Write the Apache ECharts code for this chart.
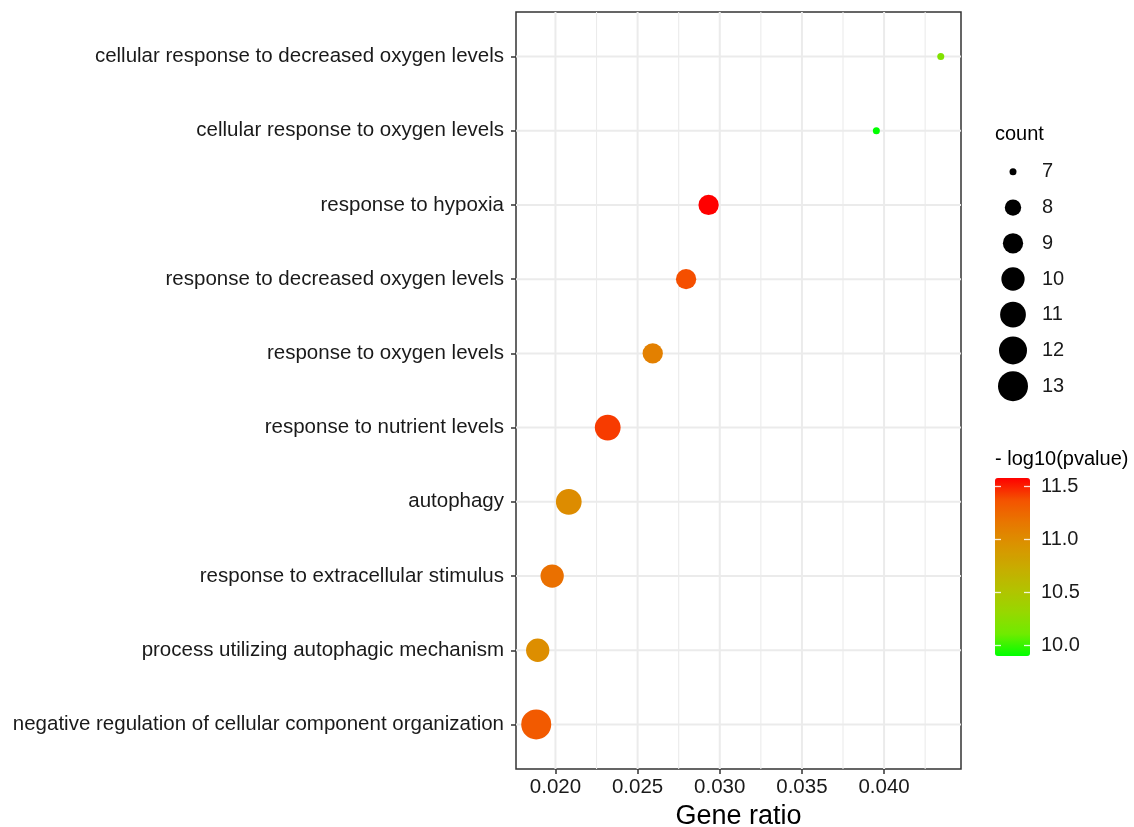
<!DOCTYPE html>
<html>
<head>
<meta charset="utf-8">
<script src="https://cdn.jsdelivr.net/npm/echarts@6/dist/echarts.min.js"></script>
<style>
html,body{margin:0;padding:0;background:#fff;}
#chart{width:1134px;height:827px;}
</style>
</head>
<body>
<div id="chart"></div>
<script>
// ---- data (top to bottom as shown) ----
const categories = [
  'cellular response to decreased oxygen levels',
  'cellular response to oxygen levels',
  'response to hypoxia',
  'response to decreased oxygen levels',
  'response to oxygen levels',
  'response to nutrient levels',
  'autophagy',
  'response to extracellular stimulus',
  'process utilizing autophagic mechanism',
  'negative regulation of cellular component organization'
];
const geneRatio = [0.04345, 0.03953, 0.02932, 0.02795, 0.02592, 0.02318, 0.02081, 0.01980, 0.01892, 0.01883];
const counts = [7, 7, 9, 9, 9, 11, 11, 10, 10, 13];
const negLog10P = [10.20, 9.90, 11.58, 11.38, 11.09, 11.43, 11.00, 11.20, 10.99, 11.33];

const xTicks = [0.020, 0.025, 0.030, 0.035, 0.040];
const xMinorTicks = [0.0225, 0.0275, 0.0325, 0.0375, 0.0425];
const sizeLevels = [7, 8, 9, 10, 11, 12, 13];
const colorTicks = [10.0, 10.5, 11.0, 11.5];

// ---- scales ----
const cMin = Math.min(...counts), cMax = Math.max(...counts);
function sizeScale(c) {
  const t = (c - cMin) / (cMax - cMin);
  return 4.6 * (1 + 5 * Math.sqrt(t)) + 2.4;
}
const pMin = Math.min(...negLog10P), pMax = Math.max(...negLog10P);
const xMinData = Math.min(...geneRatio), xMaxData = Math.max(...geneRatio);
const xPad = (xMaxData - xMinData) * 0.05;
const xLo = xMinData - xPad, xHi = xMaxData + xPad;
const yLo = -0.6, yHi = categories.length - 1 + 0.6;

const FONT = 'Liberation Sans, Arial, Helvetica, sans-serif';
const gridColor = '#EBEBEB';

// each grid line is its own two-point line series
function lineSeries(data, width) {
  return {type: 'line', xAxisIndex: 0, yAxisIndex: 0, data: data, silent: true, z: 1,
          showSymbol: false, symbol: 'none',
          lineStyle: {color: gridColor, width: width}, emphasis: {disabled: true}};
}
const gridLineSeries = [];
xMinorTicks.forEach(v => gridLineSeries.push(lineSeries([[v, yLo], [v, yHi]], 1.1)));
xTicks.forEach(v => gridLineSeries.push(lineSeries([[v, yLo], [v, yHi]], 2)));
categories.forEach((c, i) => gridLineSeries.push(lineSeries([[xLo, i], [xHi, i]], 2)));

const chart = echarts.init(document.getElementById('chart'), null, {renderer: 'canvas'});

const pointSeries = {type: 'scatter', xAxisIndex: 0, yAxisIndex: 0, z: 5,
  data: categories.map((c, i) => [geneRatio[i], i, counts[i], negLog10P[i]]),
  symbolSize: d => sizeScale(d[2]),
  itemStyle: {opacity: 1}};
const sizeLegendSeries = {type: 'scatter', xAxisIndex: 1, yAxisIndex: 1, z: 5,
  data: sizeLevels.map(c => [0, c]),
  symbolSize: d => sizeScale(d[1]),
  itemStyle: {color: '#000', opacity: 1}};

const allSeries = gridLineSeries.concat([pointSeries, sizeLegendSeries]);
const pointSeriesIndex = gridLineSeries.length;

const option = {
  animation: false,
  backgroundColor: '#fff',
  textStyle: {fontFamily: FONT},
  title: [
    {text: 'count', left: 995, top: 124, padding: 0,
     textStyle: {fontSize: 20, fontWeight: 'normal', color: '#000', fontFamily: FONT}},
    {text: '- log10(pvalue)', left: 995, top: 449, padding: 0,
     textStyle: {fontSize: 20, fontWeight: 'normal', color: '#000', fontFamily: FONT}}
  ],
  grid: [
    {left: 516, top: 12, width: 445, height: 757, show: true, backgroundColor: '#fff',
     borderColor: '#333', borderWidth: 1.5, containLabel: false, outerBoundsMode: 'none'},
    {left: 1000, top: 154, width: 26, height: 250, show: false, outerBoundsMode: 'none'},
    {left: 995, top: 478, width: 35, height: 178, show: false, outerBoundsMode: 'none'}
  ],
  xAxis: [
    {type: 'value', gridIndex: 0, min: xLo, max: xHi, position: 'bottom',
     name: 'Gene ratio', nameLocation: 'middle', nameGap: 30,
     nameTextStyle: {fontSize: 27, color: '#000', fontFamily: FONT},
     axisLine: {show: false, onZero: false},
     axisTick: {show: true, customValues: xTicks, length: 5, lineStyle: {color: '#333', width: 1.5}},
     axisLabel: {customValues: xTicks, formatter: v => v.toFixed(3), fontSize: 20.5, color: '#1a1a1a', margin: 8, fontFamily: FONT},
     splitLine: {show: false}},
    {type: 'value', gridIndex: 1, min: -1, max: 1, show: false, axisLine: {onZero: false}},
    {type: 'value', gridIndex: 2, min: 0, max: 1, show: false, axisLine: {onZero: false}}
  ],
  yAxis: [
    {type: 'value', gridIndex: 0, inverse: true, min: yLo, max: yHi, position: 'left',
     axisLine: {show: false, onZero: false},
     axisTick: {show: true, customValues: categories.map((c, i) => i), length: 5, lineStyle: {color: '#333', width: 1.5}},
     axisLabel: {customValues: categories.map((c, i) => i), formatter: v => categories[Math.round(v)] || '',
                 fontSize: 20.5, color: '#1a1a1a', margin: 12, fontFamily: FONT},
     splitLine: {show: false}},
    {type: 'value', gridIndex: 1, inverse: true, min: sizeLevels[0] - 0.5, max: sizeLevels[sizeLevels.length - 1] + 0.5,
     position: 'right', axisLine: {show: false, onZero: false}, axisTick: {show: false}, splitLine: {show: false},
     axisLabel: {customValues: sizeLevels, fontSize: 20, color: '#1a1a1a', margin: 16, fontFamily: FONT}},
    {type: 'value', gridIndex: 2, min: pMin, max: pMax, position: 'right', z: 10,
     axisLine: {show: false, onZero: false}, splitLine: {show: false},
     axisTick: {show: true, inside: true, length: 6, customValues: colorTicks, lineStyle: {color: '#fff', width: 1.3, opacity: 0.85}},
     axisLabel: {customValues: colorTicks, formatter: v => v.toFixed(1), fontSize: 20, color: '#1a1a1a', margin: 11, fontFamily: FONT}},
    {type: 'value', gridIndex: 2, min: pMin, max: pMax, position: 'left', z: 10,
     axisLine: {show: false, onZero: false}, splitLine: {show: false},
     axisTick: {show: true, inside: true, length: 6, customValues: colorTicks, lineStyle: {color: '#fff', width: 1.3, opacity: 0.85}},
     axisLabel: {show: false}}
  ],
  visualMap: [{
    type: 'continuous', seriesIndex: pointSeriesIndex, dimension: 3, z: 1,
    min: pMin, max: pMax, calculable: false, realtime: false,
    left: 995, top: 478, itemWidth: 35, itemHeight: 178, padding: 0,
    text: null, showLabel: false, hoverLink: false,
    inRange: {color: ['#00FF00', '#70EB00', '#98D700', '#B3C200', '#C9AB00', '#DA9300', '#E87700', '#F45300', '#FF0000']}
  }],
  series: allSeries
};
chart.setOption(option);
</script>
</body>
</html>
